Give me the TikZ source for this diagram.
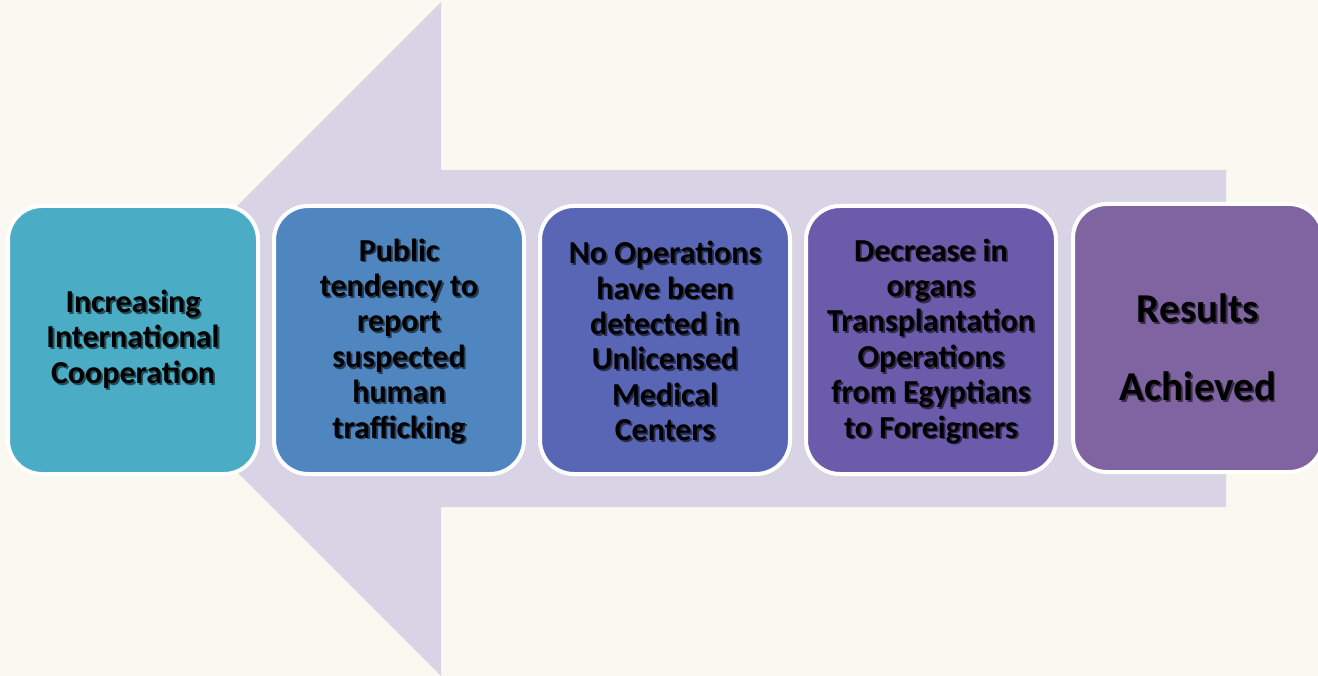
\documentclass[tikz,border=0pt]{standalone}
\usepackage{fontspec}
\setmainfont{Carlito}
\definecolor{bg}{HTML}{FAF8F1}
\definecolor{arrowc}{HTML}{D8D4E5}
\definecolor{cA}{HTML}{4BACC6}
\definecolor{cB}{HTML}{4F86C0}
\definecolor{cC}{HTML}{5866B5}
\definecolor{cD}{HTML}{6A5BAB}
\definecolor{cE}{HTML}{8064A2}
\colorlet{shc}{black!50}
\newcommand\shtxt[1]{\leavevmode\rlap{\kern1.8pt\raisebox{-1.8pt}{\color{shc}#1}}#1}
\begin{document}
\begin{tikzpicture}[x=1pt,y=-1pt,
  card/.style={rounded corners=34pt, draw=white, line width=4pt,
    minimum width=250pt, minimum height=268pt, inner sep=0pt},
  lbl/.style={align=center, text=black, inner sep=0pt,
    font=\bfseries\fontsize{32}{35.4}\selectfont,
    execute at begin node={\colorlet{shc}{#1!45!black}}},
  big/.style={font=\bfseries\fontsize{41}{78}\selectfont}]
\useasboundingbox (0,0) rectangle (1318,676);
\fill[bg] (0,0) rectangle (1318,676);
\fill[arrowc] (104,339) -- (441,2) -- (441,170) -- (1226,170) -- (1226,507)
  -- (441,507) -- (441,676) -- cycle;
\node[card, fill=cA] (b1) at (133,340) {};
\node[card, fill=cB] (b2) at (399,340) {};
\node[card, fill=cC] (b3) at (665,340) {};
\node[card, fill=cD] (b4) at (931,340) {};
\node[card, fill=cE] (b5) at (1198,338) {};
\node[lbl=cA] (t1) at (b1.center) {\shtxt{Increasing}\\\shtxt{International}\\\shtxt{Cooperation}};
\node[lbl=cB] (t2) at ([shift={(0,2)}]b2.center) {\shtxt{Public}\\\shtxt{tendency to}\\\shtxt{report}\\\shtxt{suspected}\\\shtxt{human}\\\shtxt{trafficking}};
\node[lbl=cC] (t3) at ([shift={(0,2)}]b3.center) {\shtxt{No Operations}\\\shtxt{have been}\\\shtxt{detected in}\\\shtxt{Unlicensed}\\\shtxt{Medical}\\\shtxt{Centers}};
\node[lbl=cD] (t4) at ([shift={(0,2)}]b4.center) {\shtxt{Decrease in}\\\shtxt{organs}\\\shtxt{Transplantation}\\\shtxt{Operations}\\\shtxt{from Egyptians}\\\shtxt{to Foreigners}};
\node[lbl=cE, big] (t5) at ([shift={(0,10)}]b5.center) {\shtxt{Results}\\\shtxt{Achieved}};
\end{tikzpicture}
\end{document}
